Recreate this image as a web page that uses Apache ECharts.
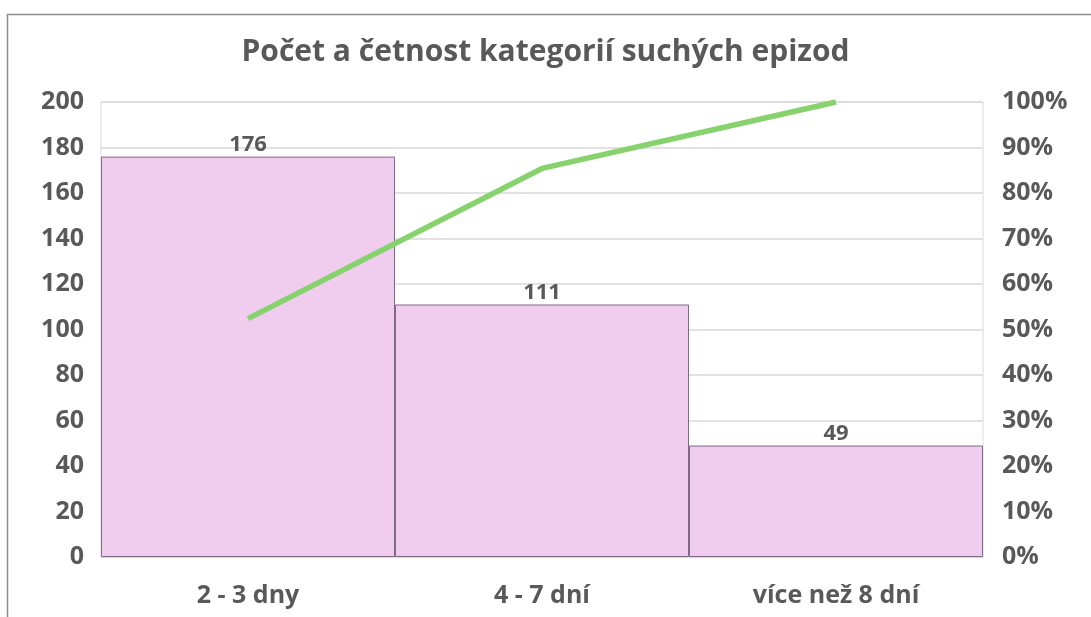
<!DOCTYPE html>
<html>
<head>
<meta charset="utf-8">
<script src="https://cdn.jsdelivr.net/npm/echarts@6/dist/echarts.min.js"></script>
<style>
  html, body { margin: 0; padding: 0; background: #fff; }
  #chart { width: 1091px; height: 617px; }
</style>
</head>
<body>
<div id="chart"></div>
<script>
// Kategorie délky suchých epizod
const categories = ['2 - 3 dny', '4 - 7 dní', 'více než 8 dní'];
// Počet epizod v každé kategorii
const counts = [176, 111, 49];
// Kumulativní četnost (podíl z celku)
const cumulativeShare = [0.524, 0.854, 1.0];
// Popisky os
const countTicks = [0, 20, 40, 60, 80, 100, 120, 140, 160, 180, 200];
const shareTicks = ['0%', '10%', '20%', '30%', '40%', '50%', '60%', '70%', '80%', '90%', '100%'];

const font = '"Open Sans", "Noto Sans", sans-serif';
const textColor = '#595959';

const chart = echarts.init(document.getElementById('chart'), null, { renderer: 'canvas' });
chart.setOption({
  backgroundColor: '#ffffff',
  animation: false,
  title: {
    text: 'Počet a četnost kategorií suchých epizod',
    left: 'center',
    top: 32,
    textStyle: { fontFamily: font, fontSize: 30, fontWeight: 'bold', color: textColor }
  },
  graphic: [{
    type: 'polyline',
    shape: { points: [[7.5, 700], [7.5, 14.5], [1200, 14.5]] },
    style: { stroke: '#8c8c8c', lineWidth: 1.5, fill: null },
    silent: true
  }],
  grid: { left: 101, right: 108, top: 102, bottom: 60, show: true, borderColor: '#d9d9d9', borderWidth: 1 },
  xAxis: {
    type: 'category',
    data: categories,
    boundaryGap: true,
    axisLine: { show: true, lineStyle: { color: '#d9d9d9' } },
    axisTick: { show: false },
    axisLabel: { fontFamily: font, fontSize: 25, fontWeight: 'bold', color: textColor, margin: 26 }
  },
  yAxis: [{
    type: 'value',
    min: countTicks[0],
    max: countTicks[countTicks.length - 1],
    interval: 20,
    axisLine: { show: false },
    axisTick: { show: false },
    splitLine: { lineStyle: { color: '#d9d9d9', width: 1.5 } },
    axisLabel: { fontFamily: font, fontSize: 25, fontWeight: 'bold', color: textColor, margin: 17 }
  }, {
    type: 'value',
    min: 0,
    max: 1,
    interval: 0.1,
    axisLine: { show: false },
    axisTick: { show: false },
    splitLine: { show: false },
    axisLabel: {
      fontFamily: font, fontSize: 25, fontWeight: 'bold', color: textColor, margin: 19,
      formatter: v => shareTicks[Math.round(v * 10)]
    }
  }],
  series: [{
    type: 'bar',
    data: counts,
    barWidth: '100%',
    barCategoryGap: 0,
    itemStyle: { color: '#f0cdee', borderColor: '#806888', borderWidth: 1 },
    label: {
      show: true, position: 'top', distance: 1,
      fontFamily: font, fontSize: 22, fontWeight: 'bold', color: textColor
    },
    z: 2
  }, {
    type: 'line',
    yAxisIndex: 1,
    data: cumulativeShare,
    showSymbol: false,
    symbol: 'none',
    lineStyle: { color: '#86d26c', width: 5.5 },
    z: 3
  }]
});
</script>
</body>
</html>
